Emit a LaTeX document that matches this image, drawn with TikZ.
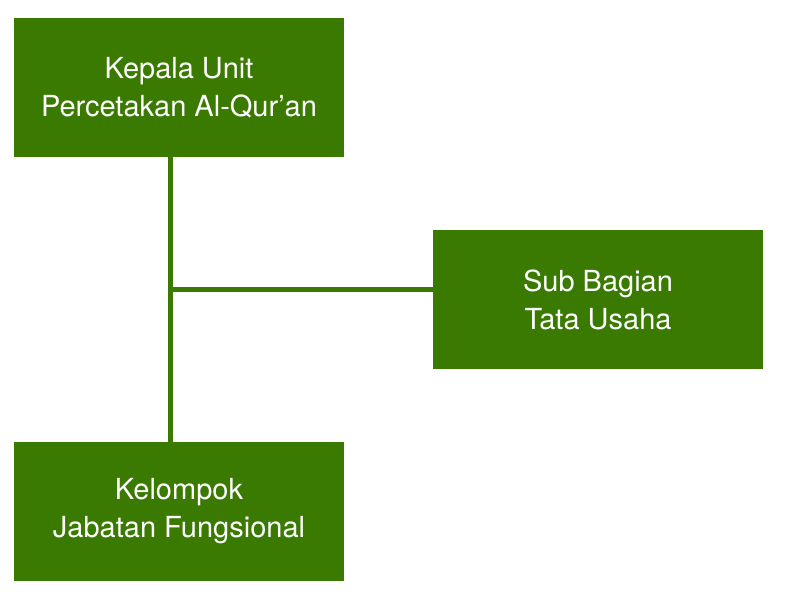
\documentclass[tikz,border=0pt]{standalone}
\usepackage{fontspec}
\setmainfont{TeX Gyre Heros}
\definecolor{boxgreen}{RGB}{58,122,0}
\begin{document}
\begin{tikzpicture}[x=1pt,y=-1pt,
  orgbox/.style={fill=boxgreen,draw=none,minimum width=330pt,minimum height=139pt,inner sep=0pt,
    text=white,align=center,font=\fontsize{29}{38}\selectfont},
  conn/.style={draw=boxgreen,line width=5pt}]
\useasboundingbox (0,0) rectangle (800,600);
\node[orgbox] (kepala) at (179,87.5) {Kepala Unit\\Percetakan Al-Qur’an};
\node[orgbox] (sub) at (598,299.5) {Sub Bagian\\Tata Usaha};
\node[orgbox] (kel) at (179,511.5) {Kelompok\\Jabatan Fungsional};
\coordinate (j) at (170.5,289);
\draw[conn] (kepala.south -| j) -- (kel.north -| j);
\draw[conn] (j) -- (sub.west |- j);
\end{tikzpicture}
\end{document}
